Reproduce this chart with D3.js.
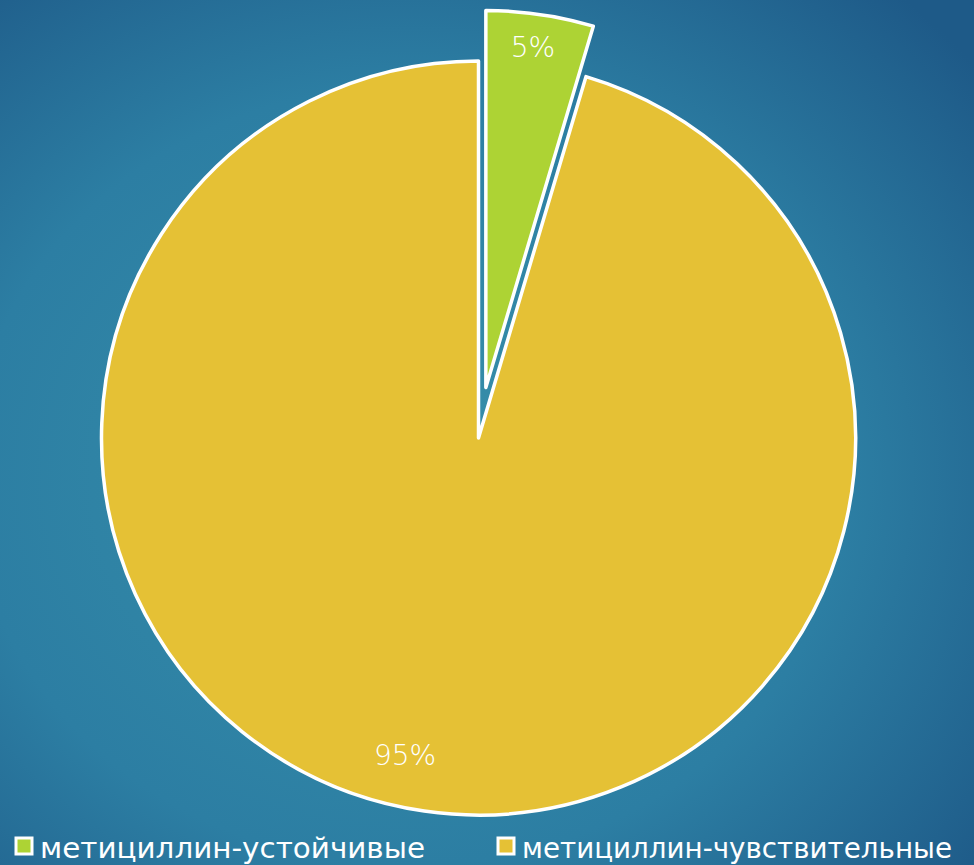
<!DOCTYPE html>
<html><head><meta charset="utf-8">
<script src="https://cdn.jsdelivr.net/npm/d3@7"></script>
<style>body{margin:0;padding:0;overflow:hidden}</style>
</head><body>
<svg id="c" width="974" height="865"></svg>
<script>
const categories = ["метициллин-устойчивые", "метициллин-чувствительные"];
const values = [4.6, 95.4];
const labels = ["5%", "95%"];
const colors = ["#ADD334", "#E5C135"];

const svg = d3.select("#c");
const defs = svg.append("defs");
const g = defs.append("radialGradient").attr("id","bg").attr("cx","42%").attr("cy","55%").attr("r","75%");
g.append("stop").attr("offset","0%").attr("stop-color","#3790aa");
g.append("stop").attr("offset","60%").attr("stop-color","#2c7ea3");
g.append("stop").attr("offset","100%").attr("stop-color","#1e5a88");
svg.append("rect").attr("width",974).attr("height",865).attr("fill","url(#bg)");

const cx = 478.5, cy = 438, R = 377, explode = 51;
const pie = d3.pie().sort(null).value(d => d)(values);
const arc = d3.arc().innerRadius(0).outerRadius(R);
const gp = svg.append("g").attr("transform",`translate(${cx},${cy})`);
pie.forEach((p,i) => {
  const mid = (p.startAngle + p.endAngle)/2;
  const off = i === 0 ? explode : 0;
  const dx = off*Math.sin(mid), dy = -off*Math.cos(mid);
  const s = gp.append("g").attr("transform",`translate(${dx},${dy})`);
  s.append("path").attr("d", arc(p)).attr("fill", colors[i])
    .attr("stroke","#fff").attr("stroke-width",3.5).attr("stroke-linejoin","round");
});
// labels
const lblPos = [[533, 47],[405, 755]];
labels.forEach((t,i)=>{
  svg.append("text").attr("x",lblPos[i][0]).attr("y",lblPos[i][1]).attr("text-anchor","middle")
    .attr("dominant-baseline","central").attr("fill","#fff")
    .attr("font-family","DejaVu Sans").attr("font-weight","200").attr("font-size",28).text(t);
});
// legend
const legX = [15, 497];
const legW = [385, 430];
categories.forEach((c,i)=>{
  svg.append("rect").attr("x",legX[i]+1).attr("y",838).attr("width",16).attr("height",16)
    .attr("fill",colors[i]).attr("stroke","#fff").attr("stroke-width",3);
  svg.append("text").attr("x",legX[i]+25).attr("y",858).attr("fill","#fff")
    .attr("font-family","DejaVu Sans").attr("font-size",28)
    .attr("textLength",legW[i]).attr("lengthAdjust","spacingAndGlyphs").text(c);
});
</script>
</body></html>
